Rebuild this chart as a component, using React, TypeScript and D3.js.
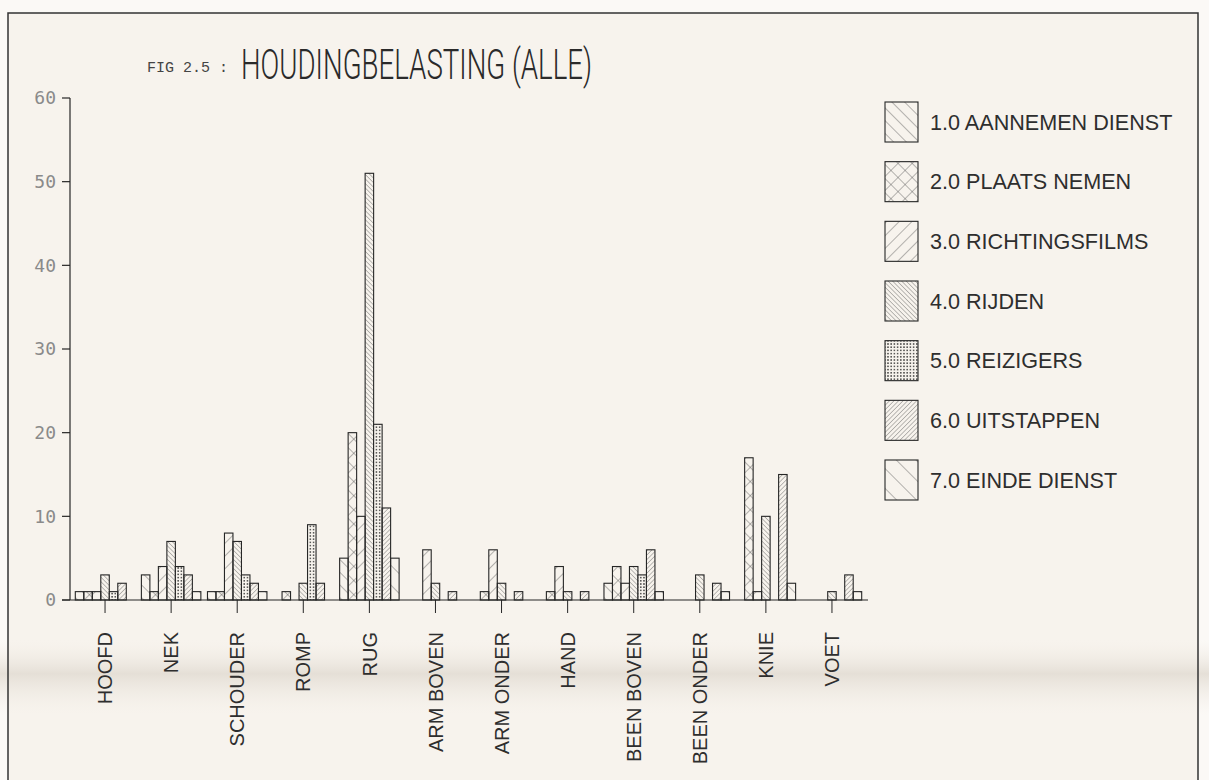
import React from "react";
import * as d3 from "d3";

const categories = ["HOOFD", "NEK", "SCHOUDER", "ROMP", "RUG", "ARM BOVEN", "ARM ONDER", "HAND", "BEEN BOVEN", "BEEN ONDER", "KNIE", "VOET"];
const seriesNames = ["1.0 AANNEMEN DIENST", "2.0 PLAATS NEMEN", "3.0 RICHTINGSFILMS", "4.0 RIJDEN", "5.0 REIZIGERS", "6.0 UITSTAPPEN", "7.0 EINDE DIENST"];
const aannemenDienst = [1, 3, 1, 0, 5, 0, 0, 0, 2, 0, 0, 0];
const plaatsNemen = [1, 1, 1, 1, 20, 0, 1, 1, 4, 0, 17, 0];
const richtingsfilms = [1, 4, 8, 0, 10, 6, 6, 4, 2, 0, 1, 0];
const rijden = [3, 7, 7, 2, 51, 2, 2, 1, 4, 3, 10, 1];
const reizigers = [1, 4, 3, 9, 21, 0, 0, 0, 3, 0, 0, 0];
const uitstappen = [2, 3, 2, 2, 11, 1, 1, 1, 6, 2, 15, 3];
const eindeDienst = [0, 1, 1, 0, 5, 0, 0, 0, 1, 1, 2, 1];
const seriesValues = [aannemenDienst, plaatsNemen, richtingsfilms, rijden, reizigers, uitstappen, eindeDienst];
const yTickValues = [0, 10, 20, 30, 40, 50, 60];
const titleSmall = "FIG 2.5 :";
const titleBig = "HOUDINGBELASTING (ALLE)";

const W = 1209;
const H = 780;
const INK = "#262626";
const HATCH = "#4a4a4a";

function Patterns() {
  const line = (id: string, size: number, angle: number, sw = 0.8) => (
    <pattern key={id} id={id} patternUnits="userSpaceOnUse" width={size} height={size} patternTransform={`rotate(${angle})`}>
      <line x1={0} y1={-1} x2={0} y2={size + 1} stroke={HATCH} strokeWidth={sw} />
    </pattern>
  );
  return (
    <defs>
      {line("p0", 9, -45)}
      <pattern id="p1" patternUnits="userSpaceOnUse" width={10} height={10} patternTransform="rotate(45)">
        <line x1={0} y1={-1} x2={0} y2={11} stroke={HATCH} strokeWidth={0.8} />
        <line x1={-1} y1={0} x2={11} y2={0} stroke={HATCH} strokeWidth={0.8} />
      </pattern>
      {line("p2", 9, 45)}
      {line("p3", 3.2, -45, 0.7)}
      <pattern id="p4" patternUnits="userSpaceOnUse" width={3.2} height={3.2}>
        <rect x={0} y={0} width={3.2} height={3.2} fill="#f7f3ed" />
        <circle cx={1.6} cy={1.6} r={0.85} fill="#333" />
      </pattern>
      {line("p5", 3.2, 45, 0.7)}
      {line("p6", 14, -45)}
      <linearGradient id="fold" x1="0" y1="0" x2="0" y2="1">
        <stop offset="0" stopColor="#f4efe8" stopOpacity={0} />
        <stop offset="0.45" stopColor="#e3ddd4" stopOpacity={0.9} />
        <stop offset="1" stopColor="#f4efe8" stopOpacity={0} />
      </linearGradient>
    </defs>
  );
}

export default function App() {
  const x = d3.scaleBand<string>().domain(categories).range([72, 865]).paddingInner(0.1).paddingOuter(0.05);
  const xs = d3.scaleBand<number>().domain(d3.range(seriesValues.length)).range([0, x.bandwidth()]);
  const y = d3.scaleLinear().domain([0, 60]).range([600, 98]);
  const axisX = 70;
  const legendY = d3.scalePoint<number>().domain(d3.range(seriesNames.length)).range([122, 480]);

  return (
    <svg width={W} height={H} style={{ position: "fixed", left: 0, top: 0 }} xmlns="http://www.w3.org/2000/svg">
      <Patterns />
      <rect x={0} y={0} width={W} height={H} fill="#fbf9f6" />
      <rect x={8} y={13} width={1190} height={H} fill="#f7f3ed" />
      <rect x={0} y={640} width={W} height={75} fill="url(#fold)" />
      <path d={`M8,${H} V13 H1198 V${H}`} fill="none" stroke="#333" strokeWidth={1.5} />

      <text x={147} y={72} fontFamily="'Liberation Mono', monospace" fontSize={15} fill="#444">{titleSmall}</text>
      <text x={241} y={79} fontFamily="Roboto, 'Liberation Sans', Arial, sans-serif" fontWeight={300} fontSize={42} fill="#2a2a2a" textLength={351} lengthAdjust="spacingAndGlyphs">{titleBig}</text>

      {/* y axis */}
      <line x1={axisX} y1={y(60)} x2={axisX} y2={y(0)} stroke={INK} strokeWidth={1.2} />
      {yTickValues.map((t) => (
        <g key={t}>
          <line x1={axisX - 8} x2={axisX} y1={y(t)} y2={y(t)} stroke={INK} strokeWidth={1.2} />
          <text x={axisX - 14} y={y(t)} dy="0.35em" textAnchor="end" fontFamily="'DejaVu Sans Mono', monospace" fontSize={18} fill="#8a8a8a">{t}</text>
        </g>
      ))}

      {/* bars */}
      {categories.map((c, ci) => (
        <g key={c} transform={`translate(${x(c)},0)`}>
          {seriesValues.map((vals, si) => {
            const v = vals[ci];
            if (!v) return null;
            return (
              <rect key={si} x={xs(si)} y={y(v)} width={xs.bandwidth()} height={y(0) - y(v)} fill={`url(#p${si})`} stroke={INK} strokeWidth={1.1} />
            );
          })}
        </g>
      ))}

      {/* x axis */}
      <line x1={axisX - 8} x2={868} y1={y(0)} y2={y(0)} stroke={INK} strokeWidth={1.2} />
      {categories.map((c) => {
        const cx = (x(c) as number) + x.bandwidth() / 2;
        return (
          <g key={c}>
            <line x1={cx} x2={cx} y1={y(0)} y2={y(0) + 13} stroke={INK} strokeWidth={1} />
            <text transform={`translate(${cx},632) rotate(-90)`} textAnchor="end" dy="0.36em" fontFamily="'Liberation Sans', Arial, sans-serif" fontSize={20} fill="#2e2e2e">{c}</text>
          </g>
        );
      })}

      {/* legend */}
      {seriesNames.map((n, i) => {
        const cy = legendY(i) as number;
        return (
          <g key={n}>
            <rect x={885} y={cy - 20} width={33} height={40} fill={`url(#p${i})`} stroke={INK} strokeWidth={1.1} />
            <text x={930} y={cy} dy="0.36em" fontFamily="'Liberation Sans', Arial, sans-serif" fontSize={21.6} fill="#2e2e2e">{n}</text>
          </g>
        );
      })}
    </svg>
  );
}
